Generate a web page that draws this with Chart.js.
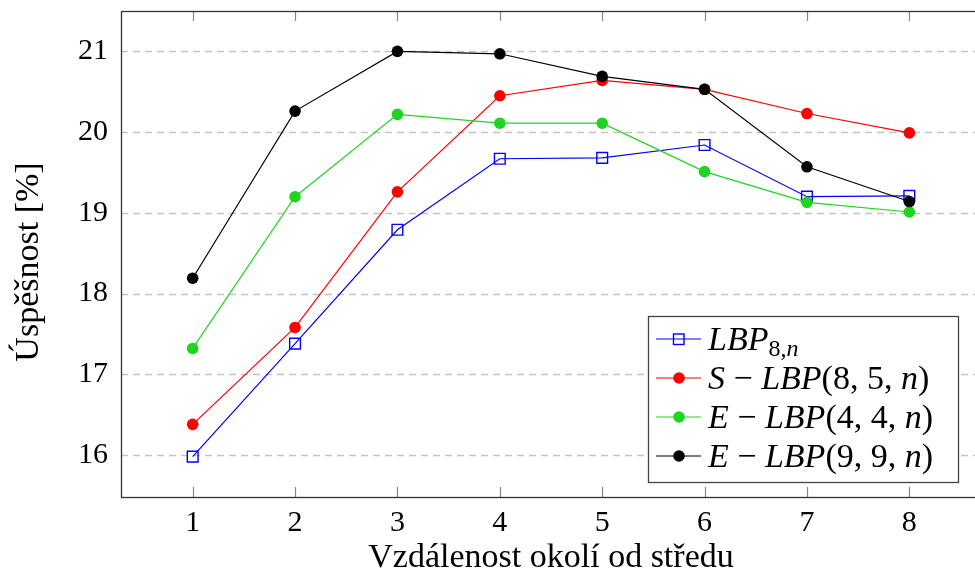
<!DOCTYPE html>
<html>
<head>
<meta charset="utf-8">
<script src="https://cdn.jsdelivr.net/npm/chart.js@4.4.1/dist/chart.umd.min.js"></script>
<style>
  html, body { margin: 0; padding: 0; background: #fff; overflow: hidden; }
  #wrap { width: 975px; height: 575px; overflow: hidden; }
</style>
</head>
<body>
<div id="wrap"><canvas id="chart" width="990" height="575"></canvas></div>
<script>
// --- data ---
const distances = [1, 2, 3, 4, 5, 6, 7, 8];
const lbp8n   = [15.98, 17.38, 18.79, 19.67, 19.68, 19.84, 19.20, 19.21];
const sLbp855 = [16.38, 17.58, 19.26, 20.45, 20.64, 20.53, 20.23, 19.99];
const eLbp44  = [17.32, 19.20, 20.22, 20.11, 20.11, 19.51, 19.13, 19.01];
const eLbp99  = [18.19, 20.26, 21.00, 20.97, 20.69, 20.53, 19.57, 19.14];
const xTicks = [1, 2, 3, 4, 5, 6, 7, 8];
const yTicks = [16, 17, 18, 19, 20, 21];
const yTitle = 'Úspěšnost [%]';

// legend labels, split into pieces: i = italic, r = upright, s = subscript, si = italic subscript
const legendPieces = [
    [['LBP', 'i'], ['8,', 's'], ['n', 'si']],
    [['S', 'i'], [' \u2212 ', 'r'], ['LBP', 'i'], ['(8, 5, ', 'r'], ['n', 'i'], [')', 'r']],
    [['E', 'i'], [' \u2212 ', 'r'], ['LBP', 'i'], ['(4, 4, ', 'r'], ['n', 'i'], [')', 'r']],
    [['E', 'i'], [' \u2212 ', 'r'], ['LBP', 'i'], ['(9, 9, ', 'r'], ['n', 'i'], [')', 'r']]
];

const serif = '"Liberation Serif", "DejaVu Serif", serif';
const toPoints = ys => distances.map((x, i) => ({ x: x, y: ys[i] }));

// frame, dashed grid, inward ticks, y title and the boxed legend
const framePlugin = {
    id: 'frame',
    beforeDatasetsDraw(chart) {
        const { ctx, chartArea: a, scales } = chart;
        ctx.save();
        ctx.strokeStyle = '#c4c4c4';
        ctx.lineWidth = 1.3;
        ctx.setLineDash([7, 5]);
        yTicks.forEach(v => {
            const y = Math.round(scales.y.getPixelForValue(v)) + 0.5;
            ctx.beginPath();
            ctx.moveTo(a.left, y);
            ctx.lineTo(a.right, y);
            ctx.stroke();
        });
        ctx.setLineDash([]);
        ctx.strokeStyle = '#888';
        ctx.lineWidth = 1.2;
        xTicks.forEach(v => {
            const x = Math.round(scales.x.getPixelForValue(v)) + 0.5;
            ctx.beginPath();
            ctx.moveTo(x, a.bottom); ctx.lineTo(x, a.bottom - 10);
            ctx.moveTo(x, a.top); ctx.lineTo(x, a.top + 10);
            ctx.stroke();
        });

        // y axis title (sits a little below the plot centre in the original)
        ctx.fillStyle = '#000';
        ctx.font = '34px ' + serif;
        ctx.textAlign = 'center';
        ctx.textBaseline = 'alphabetic';
        ctx.translate(38, (a.top + a.bottom) / 2 + 8);
        ctx.rotate(-Math.PI / 2);
        ctx.fillText(yTitle, 0, 0);
        ctx.restore();
    },
    afterDraw(chart) {
        const { ctx, chartArea: a } = chart;
        ctx.save();
        ctx.strokeStyle = '#333';
        ctx.lineWidth = 1.3;
        ctx.strokeRect(a.left + 0.5, a.top + 0.5, a.right - a.left, a.bottom - a.top);

        // legend box
        const bx = 648, by = 316, bw = 310, bh = 166;
        ctx.fillStyle = '#fff';
        ctx.fillRect(bx, by, bw, bh);
        ctx.strokeStyle = '#444';
        ctx.lineWidth = 1.3;
        ctx.strokeRect(bx + 0.5, by + 0.5, bw, bh);

        chart.data.datasets.forEach((ds, i) => {
            const cy = by + 23 + i * 39;
            ctx.strokeStyle = ds.borderColor;
            ctx.lineWidth = 1.2;
            ctx.beginPath();
            ctx.moveTo(656, cy); ctx.lineTo(701, cy);
            ctx.stroke();
            if (ds.pointStyle === 'rect') {
                ctx.strokeStyle = ds.borderColor;
                ctx.lineWidth = ds.pointBorderWidth;
                ctx.strokeRect(673.5, cy - 5, 10.5, 10.5);
            } else {
                ctx.fillStyle = ds.pointBackgroundColor;
                ctx.beginPath();
                ctx.arc(679, cy, ds.pointRadius, 0, Math.PI * 2);
                ctx.fill();
            }

            let x = 708;
            ctx.fillStyle = '#000';
            ctx.textBaseline = 'alphabetic';
            legendPieces[i].forEach(([t, st]) => {
                const sub = st === 's' || st === 'si';
                const italic = st === 'i' || st === 'si';
                ctx.font = (italic ? 'italic ' : '') + (sub ? 24 : 34) + 'px ' + serif;
                ctx.fillText(t, x, cy + 11 + (sub ? 6 : 0));
                x += ctx.measureText(t).width;
            });
        });
        ctx.restore();
    }
};

function drawChart() {
    new Chart(document.getElementById('chart'), {
        type: 'line',
        data: {
            datasets: [
                {
                    label: 'LBP8,n',
                    data: toPoints(lbp8n),
                    borderColor: '#0000ff',
                    borderWidth: 1.2,
                    pointStyle: 'rect',
                    pointRadius: 7.6,
                    pointBorderWidth: 1.4,
                    pointBackgroundColor: 'rgba(0,0,0,0)',
                    pointBorderColor: '#0000ff',
                    order: 4
                },
                {
                    label: 'S-LBP(8,5,n)',
                    data: toPoints(sLbp855),
                    borderColor: '#ff0000',
                    borderWidth: 1.2,
                    pointStyle: 'circle',
                    pointRadius: 5.8,
                    pointBorderWidth: 0,
                    pointBackgroundColor: '#ff0000',
                    order: 3
                },
                {
                    label: 'E-LBP(4,4,n)',
                    data: toPoints(eLbp44),
                    borderColor: '#22d422',
                    borderWidth: 1.2,
                    pointStyle: 'circle',
                    pointRadius: 5.8,
                    pointBorderWidth: 0,
                    pointBackgroundColor: '#22d422',
                    order: 2
                },
                {
                    label: 'E-LBP(9,9,n)',
                    data: toPoints(eLbp99),
                    borderColor: '#000000',
                    borderWidth: 1.2,
                    pointStyle: 'circle',
                    pointRadius: 5.8,
                    pointBorderWidth: 0,
                    pointBackgroundColor: '#000000',
                    order: 1
                }
            ]
        },
        options: {
            responsive: false,
            animation: false,
            layout: { padding: { left: 0, top: 11, right: 5, bottom: 0 } },
            plugins: {
                legend: { display: false },
                tooltip: { enabled: false }
            },
            scales: {
                x: {
                    type: 'linear',
                    min: 0.3,
                    max: 8.7,
                    afterBuildTicks: s => { s.ticks = xTicks.map(v => ({ value: v })); },
                    afterFit: s => { s.height = 78; s.paddingLeft = 0; s.paddingRight = 0; },
                    grid: { display: false, drawTicks: false },
                    border: { display: false },
                    ticks: {
                        color: '#000',
                        padding: 8,
                        font: { family: serif, size: 30 },
                        maxRotation: 0
                    },
                    title: {
                        display: true,
                        text: 'Vzdálenost okolí od středu',
                        color: '#000',
                        font: { family: serif, size: 34, lineHeight: 1.2 },
                        padding: { top: 0, bottom: -3 }
                    }
                },
                y: {
                    min: 15.48,
                    max: 21.5,
                    afterBuildTicks: s => { s.ticks = yTicks.map(v => ({ value: v })); },
                    afterFit: s => { s.width = 121; s.paddingTop = 0; s.paddingBottom = 0; },
                    grid: { display: false, drawTicks: false },
                    border: { display: false },
                    ticks: {
                        color: '#000',
                        padding: 13,
                        font: { family: serif, size: 30 }
                    }
                }
            }
        },
        plugins: [framePlugin]
    });
}

Promise.all([
    document.fonts.load('30px "Liberation Serif"'),
    document.fonts.load('italic 30px "Liberation Serif"')
]).then(drawChart, drawChart);
</script>
</body>
</html>
